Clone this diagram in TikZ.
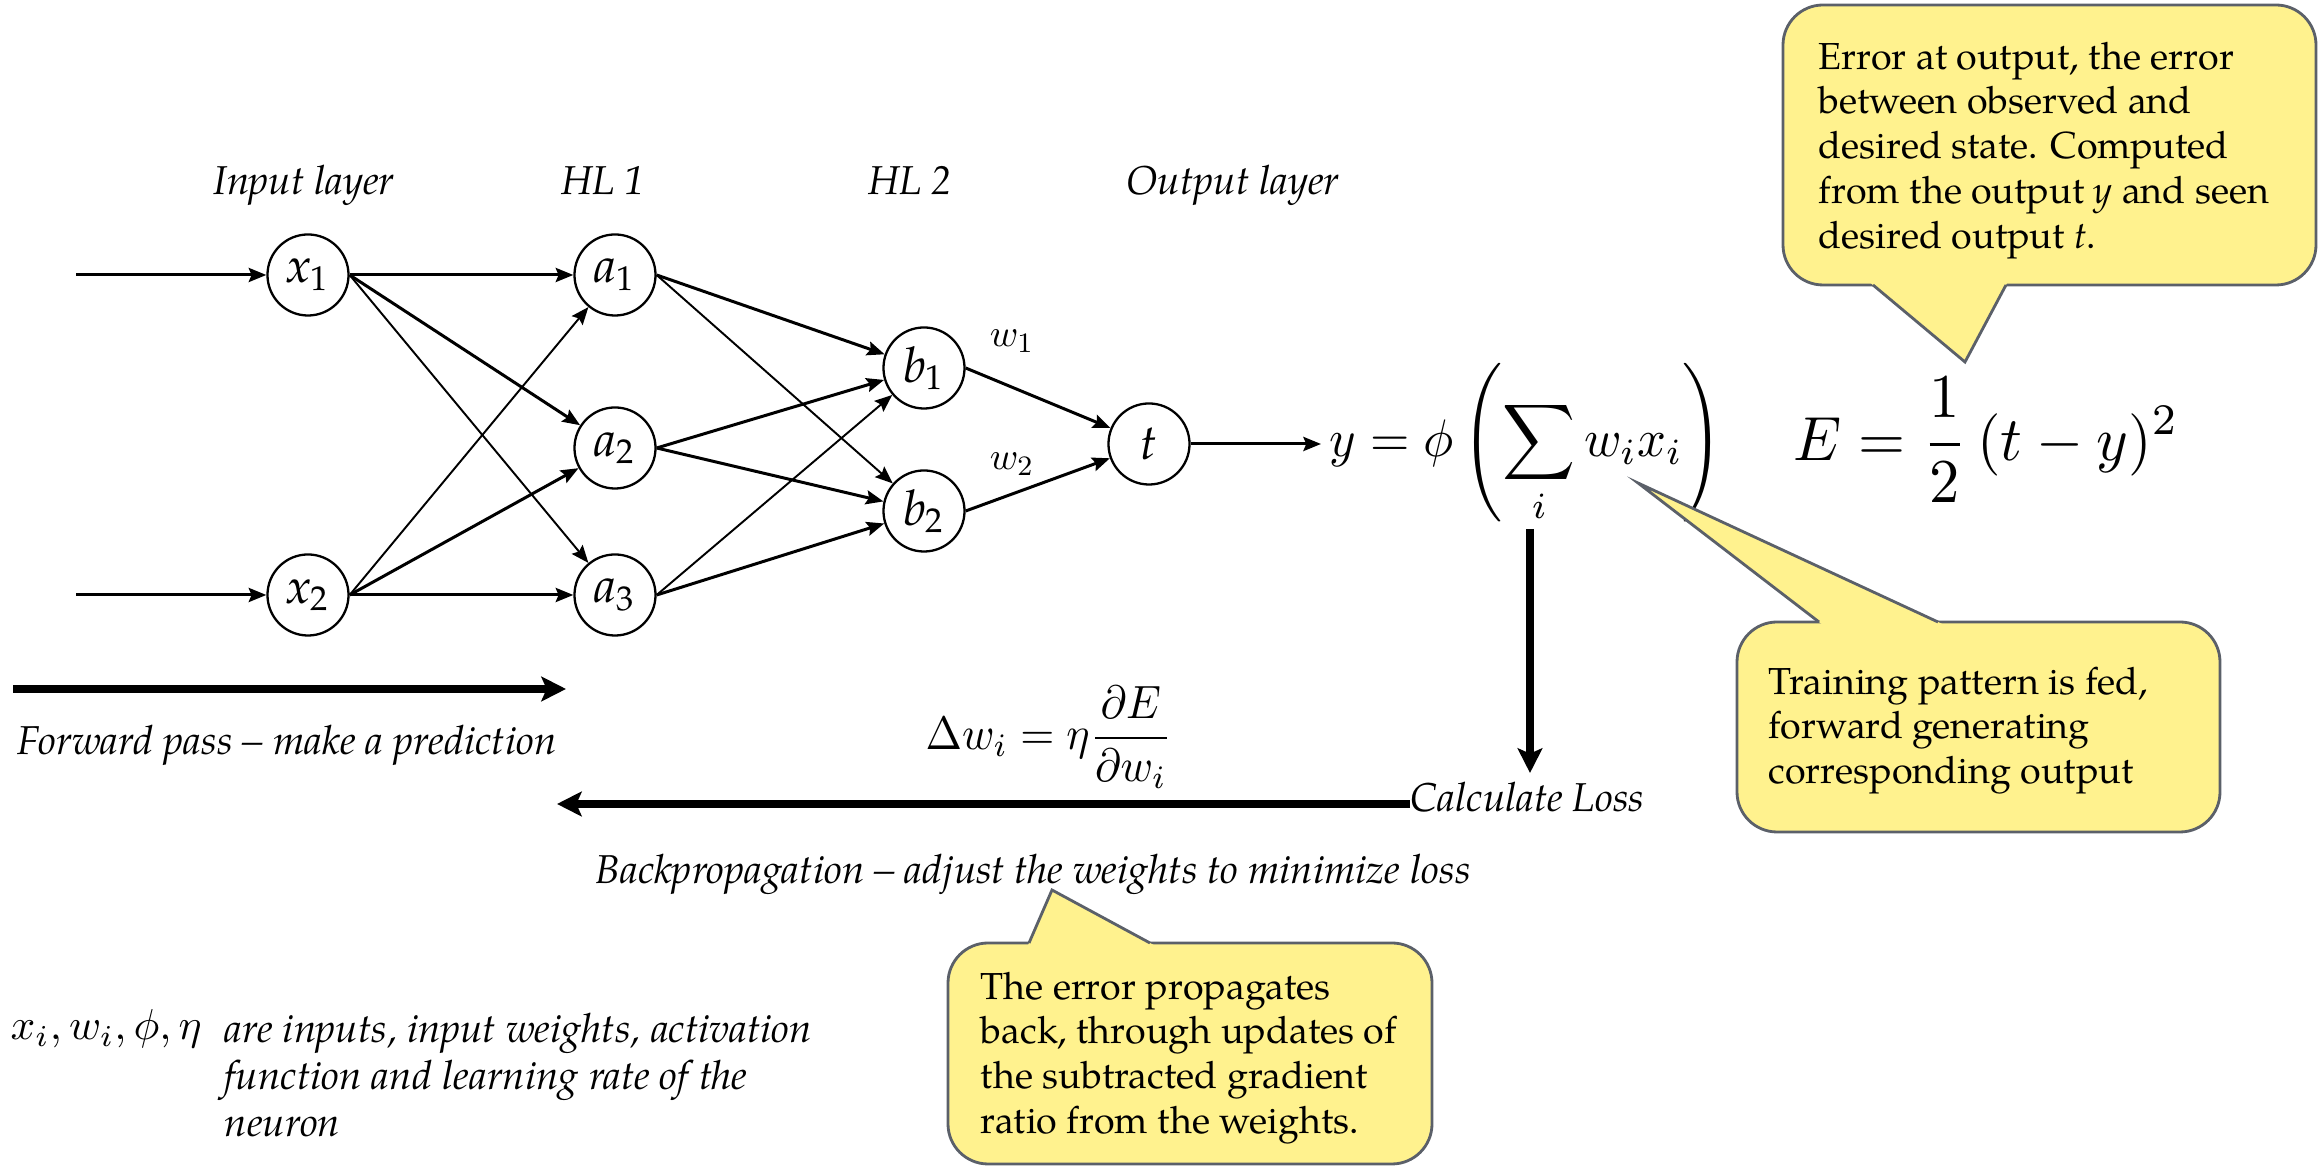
\documentclass[tikz,border=0pt]{standalone}
\usepackage[no-math]{fontspec}
\setmainfont{TeX Gyre Pagella}
\newfontfamily\titlefont{Open Sans}
\usepackage{graphicx}
\usetikzlibrary{arrows.meta}

\definecolor{noteyellow}{HTML}{FFF28E}
\definecolor{noteedge}{HTML}{5B6069}

% neuron label: italic letter with upright index
\newcommand{\nlab}[2]{#1\textsubscript{\upshape #2}}

\tikzset{
  neuron/.style={circle, draw, line width=0.65pt, minimum size=0.81cm, inner sep=0pt,
    font=\fontsize{14}{16}\selectfont\itshape},
  link/.style={-{Stealth[length=5pt,width=4pt,inset=0.8pt]}, line width=0.85pt},
  thinlink/.style={link, line width=0.55pt},
  bigarrow/.style={-{Stealth[length=7pt,width=7pt,inset=1.5pt]}, line width=2.3pt},
  lbl/.style={font=\fontsize{11.45}{13.4}\selectfont\itshape, inner sep=0pt},
  notetext/.style={font=\fontsize{10.7}{12.75}\selectfont, inner sep=0pt, align=left, anchor=north west},
  note/.style={fill=noteyellow, draw=noteedge, line width=0.8pt, rounded corners=0.4cm},
  notetip/.style={draw=noteedge, line width=0.8pt, line join=miter},
  formula/.style={anchor=north west, inner sep=0pt},
}

\begin{document}
\begin{tikzpicture}[x=0.01cm, y=-0.01cm]
\useasboundingbox (0,0) rectangle (2323,1168);

% slide title, running off the top edge
\begin{scope}
  \clip (0,0) rectangle (2323,1168);
  \node[anchor=base west, inner sep=0pt, font=\titlefont\fontsize{28}{30}\selectfont] (title) at (165,-40) {Backpropagation};
\end{scope}

% layer captions
\node[lbl, anchor=base] (capin)  at (304,195)  {Input layer};
\node[lbl, anchor=base] (caph1)  at (603,195)  {HL 1};
\node[lbl, anchor=base] (caph2)  at (910,195)  {HL 2};
\node[lbl, anchor=base] (capout) at (1233,195) {Output layer};

% neurons
\node[neuron] (x1) at (308,275) {\nlab{x}{1}};
\node[neuron] (x2) at (308,595) {\nlab{x}{2}};
\node[neuron] (a1) at (615,275) {\nlab{a}{1}};
\node[neuron] (a2) at (615,448) {\nlab{a}{2}};
\node[neuron] (a3) at (615,595) {\nlab{a}{3}};
\node[neuron] (b1) at (924,368) {\nlab{b}{1}};
\node[neuron] (b2) at (924,511) {\nlab{b}{2}};
\node[neuron] (t)  at (1149,444) {t};

\coordinate (in1) at (76,275);
\coordinate (in2) at (76,595);
\coordinate (yin) at (1321,444);

% connections
\draw[link] (in1) -- (x1);
\draw[link] (in2) -- (x2);
\draw[link]     (x1.east) -- (a1);
\draw[link]     (x1.east) -- (a2);
\draw[thinlink] (x1.east) -- (a3);
\draw[thinlink] (x2.east) -- (a1);
\draw[link]     (x2.east) -- (a2);
\draw[link]     (x2.east) -- (a3);
\draw[link]     (a1.east) -- (b1);
\draw[thinlink] (a1.east) -- (b2);
\draw[link]     (a2.east) -- (b1);
\draw[link]     (a2.east) -- (b2);
\draw[thinlink] (a3.east) -- (b1);
\draw[link]     (a3.east) -- (b2);
\draw[link]     (b1.east) -- (t);
\draw[link]     (b2.east) -- (t);
\draw[link]     (t) -- (yin);

% weights on the last layer
\node[font=\fontsize{11.4}{13}\selectfont, inner sep=0pt] (w1) at (1012,341) {$w_1$};
\node[font=\fontsize{11.4}{13}\selectfont, inner sep=0pt] (w2) at (1012,464) {$w_2$};

% formulas
\node[formula] (yform) at (1329,363)
  {\resizebox*{3.93cm}{1.60cm}{$\displaystyle y=\phi\left(\sum_i w_ix_i\right)$}};
\node[formula] (eform) at (1793,377)
  {\resizebox*{3.85cm}{1.25cm}{$\displaystyle E=\frac{1}{2}\,(t-y)^2$}};
\node[formula] (dwform) at (925,685)
  {\resizebox*{2.46cm}{1.03cm}{$\displaystyle \Delta w_i=\eta\frac{\partial E}{\partial w_i}$}};

% passes
\coordinate (fwdA) at (13,689);
\coordinate (fwdB) at (566,689);
\draw[bigarrow] (fwdA) -- (fwdB);
\node[lbl, anchor=base west] (fwd) at (17,755) {Forward pass -- make a prediction};

\coordinate (vtop) at (1530,529);
\coordinate (vbot) at (1530,773);
\draw[bigarrow] (vtop) -- (vbot);

\node[lbl, anchor=base west] (calc) at (1410,812) {Calculate Loss};
\coordinate (backend) at (557,804);
\draw[bigarrow] (calc.west |- backend) -- (backend);
\node[lbl, anchor=base west] (bwd) at (595,884) {Backpropagation -- adjust the weights to minimize loss};

% symbol legend
\node[anchor=base west, inner sep=0pt] (syms) at (10,1040)
  {\resizebox{1.91cm}{!}{$x_i, w_i, \phi, \eta$}};
\node[lbl, anchor=north west, align=left] (symtext) at (224,1012)
  {are inputs, input weights, activation\\function and learning rate of the\\neuron};

% callout: error at output
\filldraw[note] (1783,5) rectangle (2316,285);
\fill[noteyellow] (1868.2,281) -- (1965,362) -- (2008.1,281) -- cycle;
\draw[notetip] (1873,285) -- (1965,362) -- (2006,285);
\node[notetext] (noteerr) at (1818,41)
  {Error at output, the error\\between observed and\\desired state. Computed\\from the output \textit{y} and seen\\desired output \textit{t}.};

% callout: training pattern
\filldraw[note] (1737,622) rectangle (2220,832);
\fill[noteyellow] (1824.2,626) -- (1638,483) -- (1946.6,626) -- cycle;
\draw[notetip] (1819,622) -- (1638,483) -- (1938,622);
\node[notetext] (notetrain) at (1768,666)
  {Training pattern is fed,\\forward generating\\corresponding output};

% callout: error propagates back
\filldraw[note] (948,943) rectangle (1432,1164);
\fill[noteyellow] (1027.3,947) -- (1052,890) -- (1157.4,947) -- cycle;
\draw[notetip] (1029,943) -- (1052,890) -- (1150,943);
\node[notetext] (noteback) at (980,971)
  {The error propagates\\back, through updates of\\the subtracted gradient\\ratio from the weights.};
\end{tikzpicture}
\end{document}
